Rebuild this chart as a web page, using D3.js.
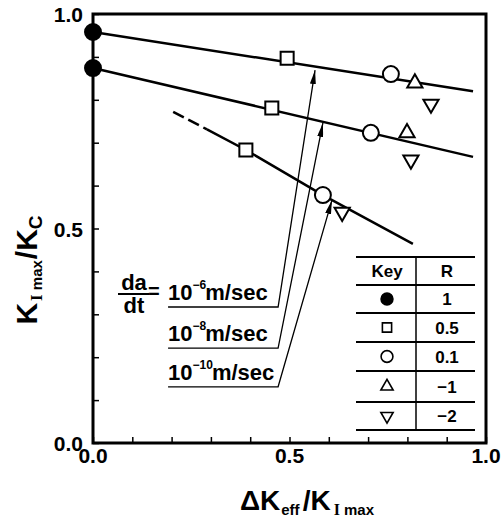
<!DOCTYPE html>
<html>
<head>
<meta charset="utf-8">
<script src="https://cdn.jsdelivr.net/npm/d3@7"></script>
<style>
body { margin: 0; background: #fff; }
svg { display: block; }
text { font-family: "Liberation Sans", Arial, sans-serif; font-weight: bold; fill: #000; }
</style>
</head>
<body>
<svg width="502" height="522"></svg>
<script>
// fitted lines for each crack growth rate da/dt
var fit6 = [[0, 0.958], [0.967, 0.820]];
var fit8 = [[0, 0.874], [0.967, 0.667]];
var fit10Dash = [[0.204, 0.772], [0.29, 0.731]];
var fit10 = [[0.29, 0.731], [0.389, 0.683], [0.585, 0.578], [0.814, 0.464]];

// measured points, by stress ratio R
var ptsR1 = [[0, 0.958], [0, 0.874]];
var ptsR05 = [[0.494, 0.897], [0.455, 0.781], [0.389, 0.683]];
var ptsR01 = [[0.758, 0.860], [0.707, 0.723], [0.585, 0.578]];
var ptsRm1 = [[0.819, 0.839], [0.799, 0.723]];
var ptsRm2 = [[0.860, 0.790], [0.809, 0.660], [0.634, 0.538]];

// rate labels: exponent, underline height, arrow tip
var rateExp = ['6', '8', '10'];
var rateLabelY = [0.317, 0.221, 0.131];
var arrowTips = [[0.565, 0.869], [0.585, 0.746], [0.608, 0.566]];

var legendR = ['1', '0.5', '0.1', '\u22121', '\u22122'];
var xTicks = [0, 0.5, 1];
var yTicks = [0, 0.5, 1];

var svg = d3.select('svg');
var x = d3.scaleLinear().domain([0, 1]).range([93, 486]);
var y = d3.scaleLinear().domain([0, 1]).range([443, 14]);

var defs = svg.append('defs');
defs.append('marker')
	.attr('id', 'arr')
	.attr('viewBox', '0 0 14 6')
	.attr('refX', 14).attr('refY', 3)
	.attr('markerWidth', 14).attr('markerHeight', 6)
	.attr('markerUnits', 'userSpaceOnUse')
	.attr('orient', 'auto')
	.append('path').attr('d', 'M0,0 L14,3 L0,6 Z').attr('fill', '#000');

// minor ticks, inward
svg.append('g')
	.attr('transform', 'translate(0,443)')
	.call(d3.axisBottom(x).tickValues(d3.range(0, 1.01, 0.1)).tickSize(-6).tickFormat(''))
	.call(g => g.select('.domain').remove())
	.selectAll('line').attr('stroke-width', 1.5);
svg.append('g')
	.attr('transform', 'translate(93,0)')
	.call(d3.axisLeft(y).tickValues(d3.range(0, 1.01, 0.1)).tickSize(-6).tickFormat(''))
	.call(g => g.select('.domain').remove())
	.selectAll('line').attr('stroke-width', 1.5);

// frame
svg.append('rect')
	.attr('x', x(0)).attr('y', y(1))
	.attr('width', x(1) - x(0)).attr('height', y(0) - y(1))
	.attr('fill', 'none').attr('stroke', '#000').attr('stroke-width', 3);

// tick labels
svg.selectAll('.xl').data(xTicks).enter().append('text')
	.attr('x', d => x(d)).attr('y', 463)
	.attr('text-anchor', 'middle').attr('font-size', 21)
	.text(d => d3.format('.1f')(d));
svg.selectAll('.yl').data(yTicks).enter().append('text')
	.attr('x', 83).attr('y', d => y(d) + 8)
	.attr('text-anchor', 'end').attr('font-size', 21)
	.text(d => d3.format('.1f')(d));

// fitted lines
var line = d3.line().x(d => x(d[0])).y(d => y(d[1]));
[fit6, fit8, fit10].forEach(function(f) {
	svg.append('path').attr('d', line(f))
		.attr('fill', 'none').attr('stroke', '#000').attr('stroke-width', 2.5);
});
svg.append('path').attr('d', line(fit10Dash))
	.attr('fill', 'none').attr('stroke', '#000').attr('stroke-width', 2.5)
	.attr('stroke-dasharray', '12,5');

// symbols
var sym = {
	circle: d3.symbol().type(d3.symbolCircle).size(200)(),
	square: d3.symbol().type(d3.symbolSquare).size(170)(),
	tri: d3.symbol().type(d3.symbolTriangle).size(100)()
};
function drawPts(pts, path, fill, rot) {
	svg.selectAll(null).data(pts).enter().append('path')
		.attr('d', path)
		.attr('transform', d => 'translate(' + x(d[0]) + ',' + y(d[1]) + ')' + (rot ? ' rotate(180)' : ''))
		.attr('fill', fill).attr('stroke', '#000').attr('stroke-width', 2);
}
drawPts(ptsR1, sym.circle, '#000', false);
drawPts(ptsR05, sym.square, '#fff', false);
drawPts(ptsR01, sym.circle, '#fff', false);
drawPts(ptsRm1, sym.tri, '#fff', false);
drawPts(ptsRm2, sym.tri, '#fff', true);

// rate labels with leaders
var ulStart = 0.191, ulEnd = 0.471;
rateExp.forEach(function(e, i) {
	var yy = y(rateLabelY[i]);
	svg.append('path')
		.attr('d', 'M' + x(ulStart) + ',' + yy + 'L' + x(ulEnd) + ',' + yy + 'L' + x(arrowTips[i][0]) + ',' + y(arrowTips[i][1]))
		.attr('fill', 'none').attr('stroke', '#000').attr('stroke-width', 1.3)
		.attr('marker-end', 'url(#arr)');
	var t = svg.append('text').attr('x', x(ulStart)).attr('y', yy - 7).attr('font-size', 22);
	t.append('tspan').text('10');
	t.append('tspan').attr('dx', 0).attr('dy', -11).attr('font-size', 12).text('\u2212' + e);
	t.append('tspan').attr('dx', -1).attr('dy', 11).text('m/sec');
});
// da/dt fraction
var fx = 134, fy = y(rateLabelY[0]);
svg.append('text').attr('x', fx).attr('y', fy - 17).attr('text-anchor', 'middle').attr('font-size', 22).text('da');
svg.append('line').attr('x1', fx - 16).attr('x2', fx + 15).attr('y1', fy - 13).attr('y2', fy - 13)
	.attr('stroke', '#000').attr('stroke-width', 2);
svg.append('text').attr('x', fx).attr('y', fy + 6).attr('text-anchor', 'middle').attr('font-size', 22).text('dt');
svg.append('text').attr('x', 148).attr('y', fy - 9).attr('font-size', 20).text('=');

// legend table
var lx0 = 356, lx1 = 475, ldiv = 416;
var rowsY = [257, 285, 313, 342, 371, 402, 430];
rowsY.forEach(function(ry) {
	svg.append('line').attr('x1', lx0).attr('x2', lx1).attr('y1', ry).attr('y2', ry)
		.attr('stroke', '#000').attr('stroke-width', 2);
});
svg.append('line').attr('x1', ldiv).attr('x2', ldiv).attr('y1', rowsY[0]).attr('y2', rowsY[6])
	.attr('stroke', '#000').attr('stroke-width', 1.5);
svg.append('text').attr('x', 387).attr('y', 277).attr('text-anchor', 'middle').attr('font-size', 17).text('Key');
svg.append('text').attr('x', 447).attr('y', 277).attr('text-anchor', 'middle').attr('font-size', 17).text('R');
var legSym = [
	[d3.symbol().type(d3.symbolCircle).size(110)(), '#000', false],
	[d3.symbol().type(d3.symbolSquare).size(85)(), '#fff', false],
	[d3.symbol().type(d3.symbolCircle).size(110)(), '#fff', false],
	[d3.symbol().type(d3.symbolTriangle).size(65)(), '#fff', false],
	[d3.symbol().type(d3.symbolTriangle).size(65)(), '#fff', true]
];
legendR.forEach(function(r, i) {
	var cy = (rowsY[i + 1] + rowsY[i + 2]) / 2;
	svg.append('path').attr('d', legSym[i][0])
		.attr('transform', 'translate(387,' + cy + ')' + (legSym[i][2] ? ' rotate(180)' : ''))
		.attr('fill', legSym[i][1]).attr('stroke', '#000').attr('stroke-width', 1.6);
	svg.append('text').attr('x', 447).attr('y', cy + 6).attr('text-anchor', 'middle').attr('font-size', 17).text(r);
});

// axis titles
var xt = svg.append('text').attr('x', 307).attr('y', 510).attr('text-anchor', 'middle').attr('font-size', 28);
xt.append('tspan').text('\u0394K');
xt.append('tspan').attr('dy', 5).attr('dx', 1).attr('font-size', 15).text('eff');
xt.append('tspan').attr('dy', -5).attr('dx', 3).text('/K');
xt.append('tspan').attr('dy', 5).attr('dx', 3).attr('font-size', 16).attr('font-family', 'Liberation Serif').text('I');
xt.append('tspan').attr('font-size', 15).text(' max');

var yt = svg.append('text').attr('transform', 'translate(37,270) rotate(-90)').attr('text-anchor', 'middle').attr('font-size', 30);
yt.append('tspan').text('K');
yt.append('tspan').attr('dy', 5).attr('dx', 2).attr('font-size', 17).attr('font-family', 'Liberation Serif').text('I');
yt.append('tspan').attr('font-size', 15).text(' max');
yt.append('tspan').attr('dy', -5).attr('dx', 1).text('/K');
yt.append('tspan').attr('dy', 5).attr('font-size', 19).text('C');
</script>
</body>
</html>
